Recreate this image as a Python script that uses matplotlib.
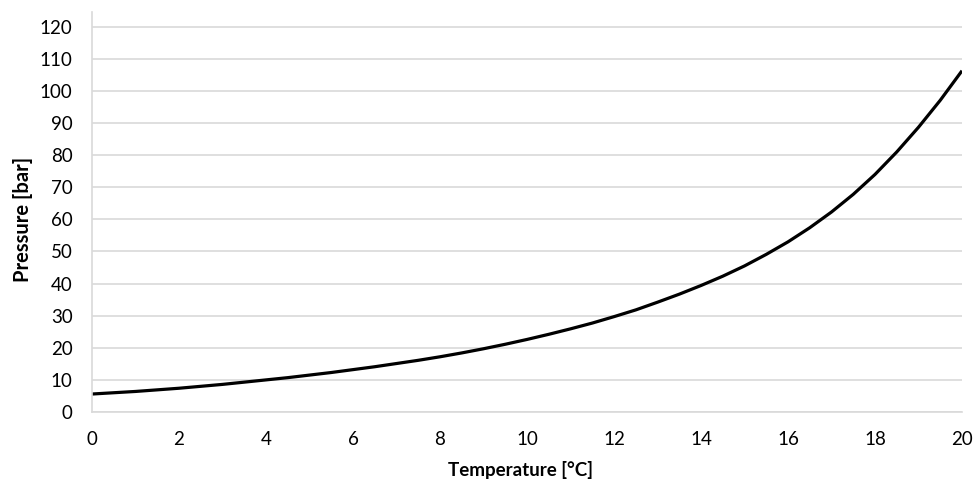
import matplotlib
matplotlib.use("Agg")
import matplotlib.pyplot as plt

temperature_c = [0, 0.5, 1, 1.5, 2, 2.5, 3, 3.5, 4, 4.5, 5, 5.5, 6, 6.5, 7, 7.5,
                 8, 8.5, 9, 9.5, 10, 10.5, 11, 11.5, 12, 12.5, 13, 13.5, 14, 14.5,
                 15, 15.5, 16, 16.5, 17, 17.5, 18, 18.5, 19, 19.5, 20]
pressure_bar = [5.6, 6.0, 6.4, 6.9, 7.4, 8.0, 8.6, 9.3, 10.0, 10.7, 11.5, 12.3,
                13.2, 14.1, 15.1, 16.1, 17.2, 18.4, 19.7, 21.1, 22.6, 24.2, 25.9,
                27.7, 29.7, 31.8, 34.2, 36.7, 39.4, 42.3, 45.5, 49.1, 53.0, 57.4,
                62.3, 67.8, 74.0, 81.0, 88.7, 97.1, 106.3]

x_ticks = list(range(0, 21, 2))
y_ticks = list(range(0, 121, 10))

plt.rcParams['font.family'] = ['Lato', 'DejaVu Sans']

fig = plt.figure(figsize=(9.74, 4.82), dpi=100)
ax = fig.add_axes([92 / 974, 1 - 412 / 482, (962 - 92) / 974, 400 / 482])

ax.plot(temperature_c, pressure_bar, color='black', linewidth=2.3,
        solid_capstyle='butt', solid_joinstyle='round')

ax.set_xlim(0, 20)
ax.set_ylim(0, 124.6)
ax.set_xticks(x_ticks)
ax.set_yticks(y_ticks)
ax.grid(axis='y', color='#d9d9d9', linewidth=1.2)
ax.set_axisbelow(True)

for side in ('top', 'right'):
    ax.spines[side].set_visible(False)
for side in ('left', 'bottom'):
    ax.spines[side].set_color('#d9d9d9')
    ax.spines[side].set_linewidth(1.2)

ax.tick_params(axis='both', length=0, labelsize=13.5, colors='#000000')
ax.tick_params(axis='x', pad=14)
ax.tick_params(axis='y', pad=14)

ax.set_xlabel('Temperature [°C]', fontsize=13.5, fontweight='bold')
ax.set_ylabel('Pressure [bar]', fontsize=14.5, fontweight='bold')
ax.xaxis.set_label_coords(0.492, -0.145)
ax.xaxis.label.set_verticalalignment('center')
ax.yaxis.set_label_coords(-0.079, 0.4825)
ax.yaxis.label.set_verticalalignment('center')

fig.savefig('out.png', dpi=100)
